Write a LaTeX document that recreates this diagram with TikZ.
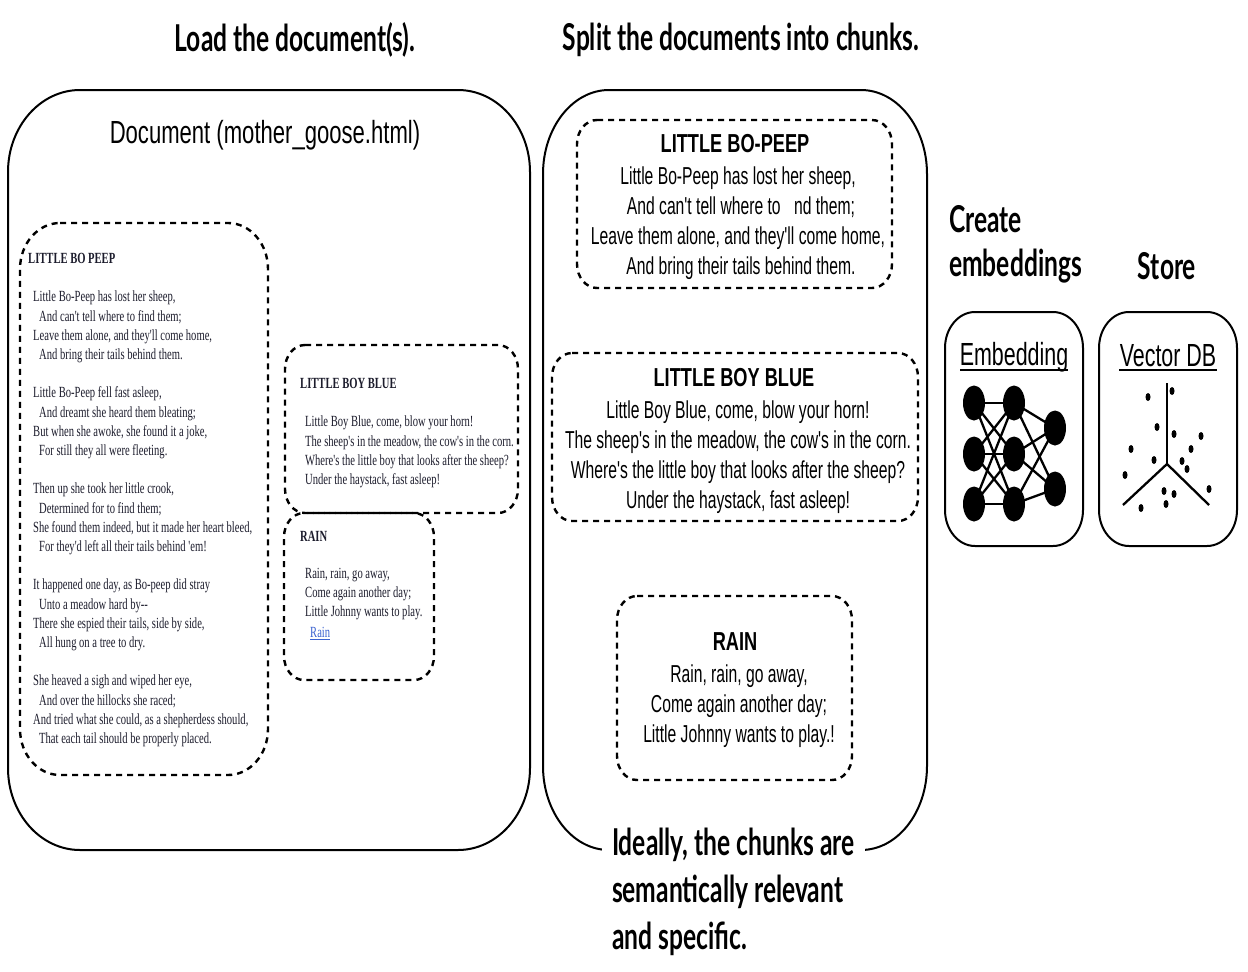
\documentclass[tikz,border=0pt]{standalone}
\usepackage{fontspec}
\setmainfont{Liberation Sans}
\newfontfamily\headf[FakeStretch=0.665]{Lato}
\newfontfamily\chunkf[FakeStretch=0.64]{Liberation Sans}
\newfontfamily\titlef[FakeStretch=0.70]{Liberation Sans}
\newfontfamily\boxf[FakeStretch=0.67]{Liberation Sans}
\newfontfamily\docf[FakeStretch=0.69]{Liberation Sans}
\newfontfamily\poemf[FakeStretch=0.683]{Liberation Serif}
\definecolor{poemink}{HTML}{1C1C2C}
\definecolor{linkblue}{HTML}{3A62D0}
\newcommand{\softbox}[8]{%
  \draw[#2] ({#3+#7},#4) -- ({#5-#7},#4)
    .. controls ({#5-.4477*#7},#4) and (#5,{#4+.4477*#8}) .. (#5,{#4+#8})
    -- (#5,{#6-#8})
    .. controls (#5,{#6-.4477*#8}) and ({#5-.4477*#7},#6) .. ({#5-#7},#6)
    -- ({#3+#7},#6)
    .. controls ({#3+.4477*#7},#6) and (#3,{#6-.4477*#8}) .. (#3,{#6-#8})
    -- (#3,{#4+#8})
    .. controls (#3,{#4+.4477*#8}) and ({#3+.4477*#7},#4) .. ({#3+#7},#4) -- cycle;
  \node[inner sep=0pt,minimum width={(#5-#3)*1pt},minimum height={(#6-#4)*1pt}] (#1) at ({(#3+#5)/2},{(#4+#6)/2}) {};
}
\tikzset{
  solidbox/.style={draw=black,line width=2pt},
  dashbox/.style={draw=black,line width=2.4pt,dash pattern=on 6pt off 5pt},
  heading/.style={font=\headf\bfseries\fontsize{37}{47}\selectfont,inner sep=0pt,align=left,text=black},
  chunktext/.style={font=\chunkf\fontsize{24.5}{30}\selectfont,inner sep=0pt,align=center,text=black},
  chunktitle/.style={font=\titlef\bfseries\fontsize{26}{30}\selectfont,inner sep=0pt,text=black},
  boxtitle/.style={font=\boxf\fontsize{32}{36}\selectfont,inner sep=0pt,text=black},
  poem/.style={font=\poemf\fontsize{15.5}{19.2}\selectfont,inner sep=0pt,align=left,text=poemink,anchor=north west},
  poemhead/.style={font=\poemf\bfseries\fontsize{15.5}{19}\selectfont,inner sep=0pt,text=poemink,anchor=west},
  neuron/.style={ellipse,fill=black,inner sep=0pt,minimum width=22pt,minimum height=35pt},
  dot/.style={ellipse,fill=black,inner sep=0pt,minimum width=5pt,minimum height=8pt},
  netedge/.style={draw=black,line width=2.3pt},
  axis/.style={draw=black,line width=2.3pt},
  rule/.style={draw=black,line width=1.4pt}
}
\usetikzlibrary{shapes.geometric}
\begin{document}
\begin{tikzpicture}[x=1pt,y=-1pt]
\useasboundingbox (0,0) rectangle (1248,972);
\fill[white] (0,0) rectangle (1248,972);

% outer boxes
\softbox{docbox}{solidbox}{8}{90}{530}{850}{72}{82}
\softbox{chunkbox}{solidbox}{543}{90}{927}{850}{66}{84}
\softbox{embbox}{solidbox}{945}{312}{1083}{546}{30}{36}
\softbox{vecbox}{solidbox}{1099}{312}{1237}{546}{30}{36}

% dashed boxes
\softbox{bopeepdoc}{dashbox}{20}{223}{268}{775}{40}{46}
\softbox{bluedoc}{dashbox}{285}{345}{518}{513}{20}{24}
\softbox{raindoc}{dashbox,dash phase=7.3pt}{284}{513}{434}{680}{20}{24}
\softbox{chunka}{dashbox}{577}{120}{892}{288}{20}{24}
\softbox{chunkb}{dashbox}{552}{353}{918}{521}{20}{24}
\softbox{chunkc}{dashbox}{617}{596}{852}{780}{20}{24}

% headings
\node[heading] (loadh) at (295,40) {Load the document(s).};
\node[heading] (splith) at (741,40) {Split the documents into chunks.};
\node[heading,anchor=west] (createa) at (949,219) {Create};
\node[heading,anchor=west] (createb) at (949,266) {embeddings};
\node[heading] (storeh) at (1167,266) {Store};
\node[heading,anchor=north west,fill=white,inner xsep=10pt,outer sep=0pt] (ideal) at (602,828) {Ideally, the chunks are\\semantically relevant\\and specific.};

% document
\node[font=\docf\fontsize{32}{36}\selectfont,inner sep=0pt] (doctitle) at (265,135) {Document (mother\_goose.html)};

\node[poemhead] (bophead) at (28,258) {LITTLE BO PEEP};
\node[poem] (boptext) at (33,291) {Little Bo-Peep has lost her sheep,\\
\hspace*{6pt}And can't tell where to find them;\\
Leave them alone, and they'll come home,\\
\hspace*{6pt}And bring their tails behind them.\\[19.2pt]
Little Bo-Peep fell fast asleep,\\
\hspace*{6pt}And dreamt she heard them bleating;\\
But when she awoke, she found it a joke,\\
\hspace*{6pt}For still they all were fleeting.\\[19.2pt]
Then up she took her little crook,\\
\hspace*{6pt}Determined for to find them;\\
She found them indeed, but it made her heart bleed,\\
\hspace*{6pt}For they'd left all their tails behind 'em!\\[19.2pt]
It happened one day, as Bo-peep did stray\\
\hspace*{6pt}Unto a meadow hard by--\\
There she espied their tails, side by side,\\
\hspace*{6pt}All hung on a tree to dry.\\[19.2pt]
She heaved a sigh and wiped her eye,\\
\hspace*{6pt}And over the hillocks she raced;\\
And tried what she could, as a shepherdess should,\\
\hspace*{6pt}That each tail should be properly placed.};

\node[poemhead] (bluehead) at (300,383) {LITTLE BOY BLUE};
\node[poem] (bluetext) at (305,416) {Little Boy Blue, come, blow your horn!\\
The sheep's in the meadow, the cow's in the corn.\\
Where's the little boy that looks after the sheep?\\
Under the haystack, fast asleep!};

\node[poemhead] (rainhead) at (300,536) {RAIN};
\node[poem] (raintext) at (305,568) {Rain, rain, go away,\\
Come again another day;\\
Little Johnny wants to play.};
\node[poem,text=linkblue] (rainlink) at (310,627) {\underline{Rain}};

% chunks
\node[chunktitle] (ctitlea) at (735,144) {LITTLE BO-PEEP};
\node[chunktext] (ctexta) at (738,223) {Little Bo-Peep has lost her sheep,\\
\hspace*{6pt}And can't tell where to\hspace{9pt} nd them;\\
Leave them alone, and they'll come home,\\
\hspace*{6pt}And bring their tails behind them.};
\node[chunktitle] (ctitleb) at (734,378) {LITTLE BOY BLUE};
\node[chunktext] (ctextb) at (738,457) {Little Boy Blue, come, blow your horn!\\
The sheep's in the meadow, the cow's in the corn.\\
Where's the little boy that looks after the sheep?\\
Under the haystack, fast asleep!};
\node[chunktitle] (ctitlec) at (735,642) {RAIN};
\node[chunktext] (ctextc) at (739,706) {Rain, rain, go away,\\
Come again another day;\\
Little Johnny wants to play.!};

% embedding
\node[boxtitle] (embtitle) at (1014,357) {Embedding};
\coordinate (emba) at (960,370); \coordinate (embb) at (1068,370);
\draw[rule] (emba) -- (embb);
\node[neuron] (la) at (974,403) {};
\node[neuron] (lb) at (974,454) {};
\node[neuron] (lc) at (974,504) {};
\node[neuron] (ma) at (1014,403) {};
\node[neuron] (mb) at (1014,454) {};
\node[neuron] (mc) at (1014,504) {};
\node[neuron] (ra) at (1055,428) {};
\node[neuron] (rb) at (1055,489) {};
\foreach \s in {la,lb,lc} \foreach \t in {ma,mb,mc} \draw[netedge] (\s.center) -- (\t.center);
\foreach \s in {ma,mb,mc} \foreach \t in {ra,rb} \draw[netedge] (\s.center) -- (\t.center);

% vector db
\node[boxtitle] (vectitle) at (1168,356) {Vector DB};
\coordinate (veca) at (1119,370); \coordinate (vecb) at (1217,370);
\draw[rule] (veca) -- (vecb);
\coordinate (origin) at (1167,464);
\coordinate (axup) at (1167,383);
\coordinate (axleft) at (1123,505);
\coordinate (axright) at (1209,505);
\draw[axis] (axup) -- (origin);
\draw[axis] (axleft) -- (origin) -- (axright);
\foreach \n/\px/\py in {a/1148/397,b/1172/391,c/1157/427,d/1174/434,e/1201/436,f/1131/449,g/1191/449,h/1154/460,i/1182/461,j/1187/469,k/1125/475,l/1209/489,m/1164/491,n/1174/494,o/1166/504,p/1141/508}
  \node[dot] (pt\n) at (\px,\py) {};
\end{tikzpicture}
\end{document}
